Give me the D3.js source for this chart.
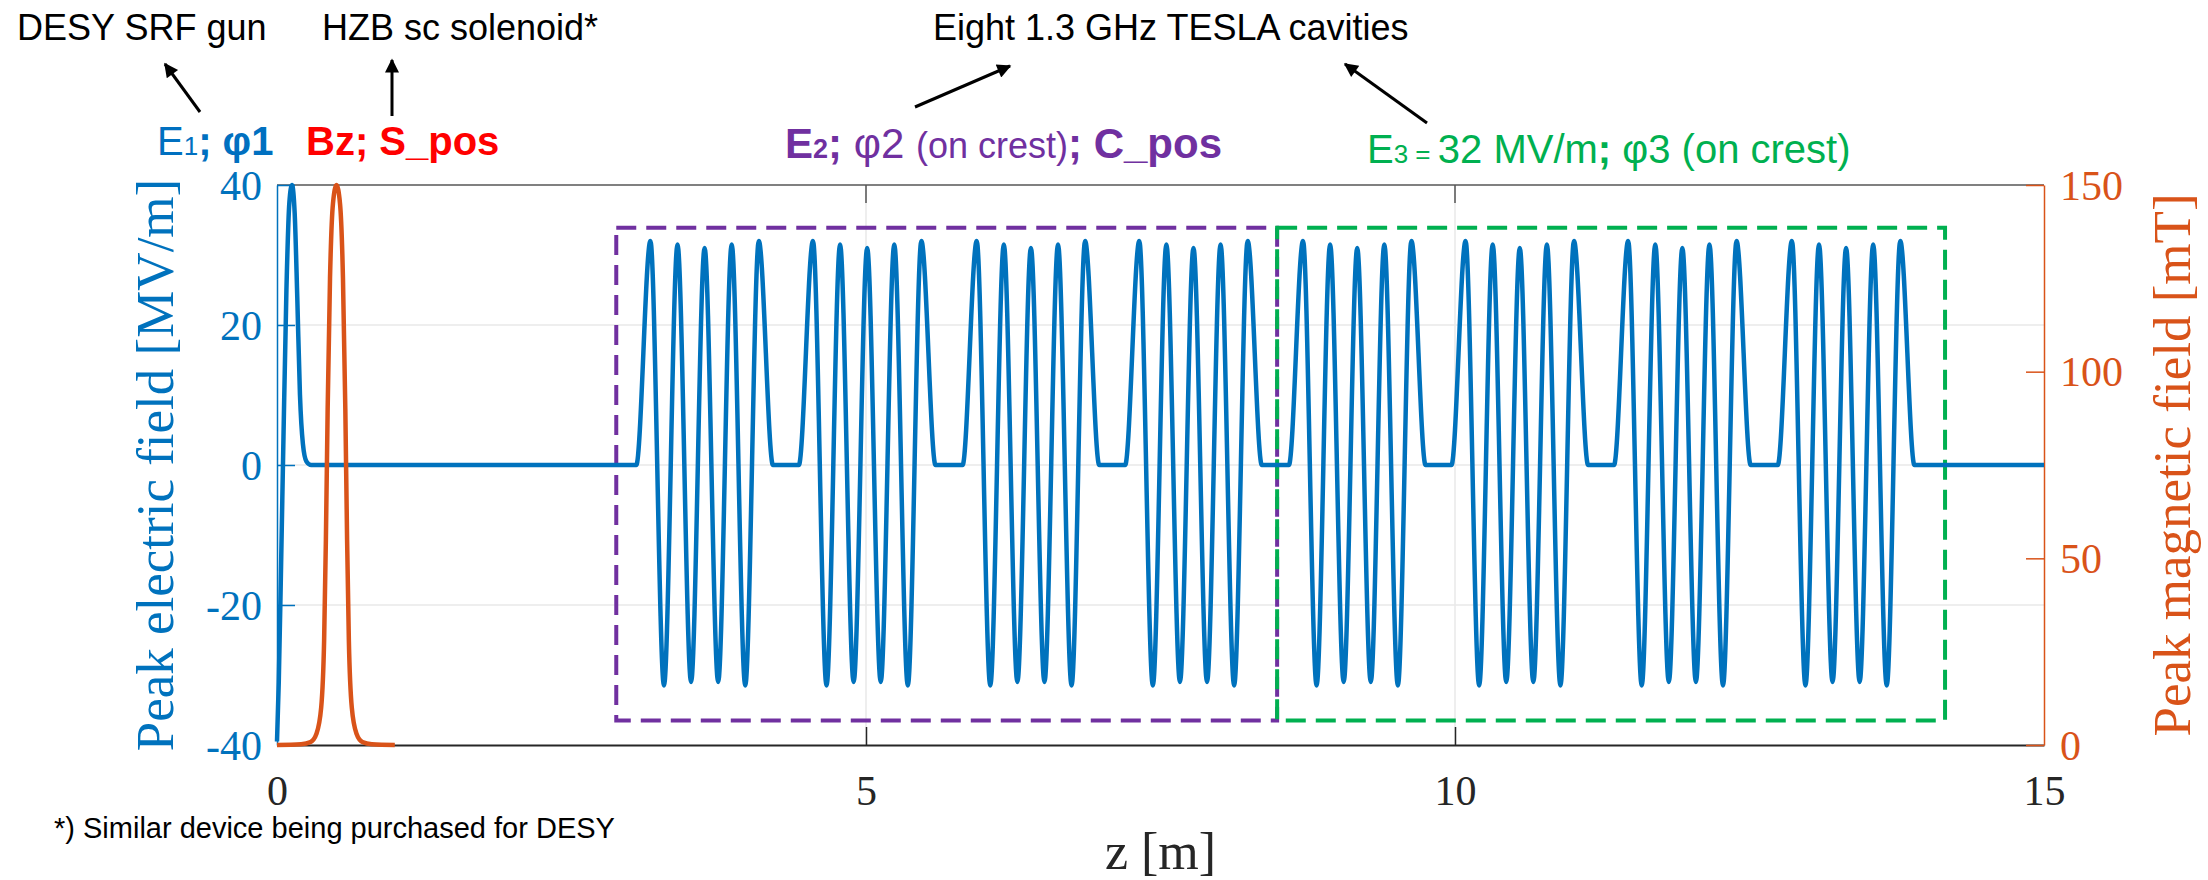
<!DOCTYPE html>
<html>
<head>
<meta charset="utf-8">
<script src="https://cdn.jsdelivr.net/npm/d3@7"></script>
<style>
  body { margin: 0; background: #fff; }
  svg { display: block; }
</style>
</head>
<body>
<div id="chart"></div>
<script>
// ---- data ----
const zTicks = [0, 5, 10, 15];
const eTicks = [-40, -20, 0, 20, 40];
const bTicks = [0, 50, 100, 150];
const eGrid = [-20, 0, 20];
const zGrid = [5, 10];

// SRF gun field, [z (m), E (MV/m)]
const gunField = [
  [0, -39.5], [0.015, -31], [0.035, -14], [0.055, 4], [0.08, 25], [0.105, 37.5],
  [0.127, 40], [0.15, 36], [0.172, 24], [0.195, 10], [0.22, 3], [0.25, 0.5], [0.29, 0]
];

// first-cell peak position of each of the eight TESLA cavities (m)
const cavityPeakZ = [3.17, 4.55, 5.94, 7.32, 8.71, 10.09, 11.47, 12.86];
// cell peak offsets inside a cavity (m) and their field values (MV/m)
const cellOffsets = [0, 0.115, 0.23, 0.345, 0.46, 0.575, 0.69, 0.805, 0.92];
const cellPeaks = [32, -31.5, 31.5, -31, 31, -31, 31.5, -31.5, 32];
const cellEdge = 0.12; // distance from end-cell peak to where the field is back at 0

// solenoid field, [z (m), Bz (mT)]
const solenoidField = [
  [0, 0], [0.205, 0.2], [0.285, 0.8], [0.335, 3], [0.375, 10], [0.4, 28], [0.415, 55],
  [0.43, 90], [0.45, 125], [0.475, 145], [0.505, 150], [0.535, 145], [0.56, 125],
  [0.58, 90], [0.595, 55], [0.61, 28], [0.635, 10], [0.675, 3], [0.725, 0.8],
  [0.805, 0.2], [1.0, 0]
];

// dashed boxes around the two groups of four cavities (z from/to, E from/to)
const boxZ = [[2.88, 8.49], [8.49, 14.16]];
const boxE = [-36.5, 33.9];
const boxColors = ["#7030A0", "#00B050"];

// ---- layout ----
const svgWidth = 2208;
const svgHeight = 880;
const plot = { left: 277, right: 2044, top: 185, bottom: 745 };

const blue = "#0072BD";
const orange = "#D95319";
const dark = "#262626";
const serif = "'Liberation Serif', 'Times New Roman', serif";
const sans = "'Liberation Sans', Arial, sans-serif";

const svg = d3.select("#chart")
  .append("svg")
  .attr("width", svgWidth)
  .attr("height", svgHeight);

svg.append("rect")
  .attr("width", svgWidth)
  .attr("height", svgHeight)
  .attr("fill", "#fff");

// scales
const xScale = d3.scaleLinear().domain([0, 15]).range([plot.left, plot.right]);
const yE = d3.scaleLinear().domain([-40, 40]).range([plot.bottom, plot.top]);
const yB = d3.scaleLinear().domain([0, 150]).range([plot.bottom, plot.top]);

// grid
const grid = svg.append("g").attr("stroke", "#e8e8e8").attr("stroke-width", 1.5);
grid.selectAll(".gy")
  .data(eGrid)
  .enter()
  .append("line")
  .attr("x1", plot.left)
  .attr("x2", plot.right)
  .attr("y1", d => yE(d))
  .attr("y2", d => yE(d));
grid.selectAll(".gx")
  .data(zGrid)
  .enter()
  .append("line")
  .attr("x1", d => xScale(d))
  .attr("x2", d => xScale(d))
  .attr("y1", plot.top)
  .attr("y2", plot.bottom);

// top box edge with inward ticks
svg.append("line")
  .attr("x1", plot.left).attr("x2", plot.right)
  .attr("y1", plot.top).attr("y2", plot.top)
  .attr("stroke", "#808080").attr("stroke-width", 2);
svg.selectAll(".topTick")
  .data(zTicks.slice(1, 3))
  .enter()
  .append("line")
  .attr("x1", d => xScale(d)).attr("x2", d => xScale(d))
  .attr("y1", plot.top).attr("y2", plot.top + 18)
  .attr("stroke", "#555").attr("stroke-width", 1.5);

// axes (plain hyphen for negatives, like the original)
const plain = d => String(d);
const xAxis = d3.axisBottom(xScale).tickValues(zTicks).tickFormat(plain)
  .tickSize(-18).tickSizeOuter(0).tickPadding(30);
const yAxisLeft = d3.axisLeft(yE).tickValues(eTicks).tickFormat(plain)
  .tickSize(-18).tickSizeOuter(0).tickPadding(15);
const yAxisRight = d3.axisRight(yB).tickValues(bTicks).tickFormat(plain)
  .tickSize(-18).tickSizeOuter(0).tickPadding(16);

function styleAxis(g, color, width) {
  g.attr("font-family", serif).attr("font-size", 42);
  g.select(".domain").attr("stroke", color).attr("stroke-width", width);
  g.selectAll(".tick line").attr("stroke", color).attr("stroke-width", 1.5);
  g.selectAll(".tick text").attr("fill", color);
}

const gx = svg.append("g")
  .attr("transform", `translate(0, ${plot.bottom})`)
  .call(xAxis);
styleAxis(gx, dark, 2);
gx.selectAll(".tick").filter(d => d === 0 || d === 15).select("line").remove();

const gl = svg.append("g")
  .attr("transform", `translate(${plot.left}, 0)`)
  .call(yAxisLeft);
styleAxis(gl, blue, 1.5);
gl.selectAll(".tick text").attr("dy", "0.34em");

const gr = svg.append("g")
  .attr("transform", `translate(${plot.right}, 0)`)
  .call(yAxisRight);
styleAxis(gr, orange, 1.5);
gr.selectAll(".tick text").attr("dy", "0.34em");

// axis titles
svg.append("text")
  .attr("x", (plot.left + plot.right) / 2)
  .attr("y", 869)
  .attr("text-anchor", "middle")
  .attr("font-family", serif)
  .attr("font-size", 52)
  .attr("fill", dark)
  .text("z [m]");

svg.append("text")
  .attr("transform", `translate(173, ${(plot.top + plot.bottom) / 2}) rotate(-90)`)
  .attr("text-anchor", "middle")
  .attr("font-family", serif)
  .attr("font-size", 53)
  .attr("fill", blue)
  .text("Peak electric field [MV/m]");

svg.append("text")
  .attr("transform", `translate(2190, ${(plot.top + plot.bottom) / 2}) rotate(-90)`)
  .attr("text-anchor", "middle")
  .attr("font-family", serif)
  .attr("font-size", 53)
  .attr("fill", orange)
  .text("Peak magnetic field [mT]");

// dashed boxes
svg.selectAll(".box")
  .data(boxZ)
  .enter()
  .append("rect")
  .attr("x", d => xScale(d[0]))
  .attr("y", yE(boxE[1]))
  .attr("width", d => xScale(d[1]) - xScale(d[0]))
  .attr("height", yE(boxE[0]) - yE(boxE[1]))
  .attr("fill", "none")
  .attr("stroke", (d, i) => boxColors[i])
  .attr("stroke-width", 4)
  .attr("stroke-dasharray", "20 10");

// electric field: gun, drift, then eight 9-cell cavities
const eField = gunField.slice();
cavityPeakZ.forEach(z0 => {
  eField.push([z0 - cellEdge, 0]);
  cellOffsets.forEach((dz, i) => eField.push([z0 + dz, cellPeaks[i]]));
  eField.push([z0 + cellOffsets[cellOffsets.length - 1] + cellEdge, 0]);
});
eField.push([15, 0]);

const eLine = d3.line()
  .x(d => xScale(d[0]))
  .y(d => yE(d[1]))
  .curve(d3.curveMonotoneX);

const bLine = d3.line()
  .x(d => xScale(d[0]))
  .y(d => yB(d[1]))
  .curve(d3.curveMonotoneX);

svg.append("path")
  .datum(eField)
  .attr("d", eLine)
  .attr("fill", "none")
  .attr("stroke", blue)
  .attr("stroke-width", 4.5)
  .attr("stroke-linejoin", "round");

svg.append("path")
  .datum(solenoidField)
  .attr("d", bLine)
  .attr("fill", "none")
  .attr("stroke", orange)
  .attr("stroke-width", 4.5)
  .attr("stroke-linejoin", "round");

// ---- annotations ----
svg.append("defs").append("marker")
  .attr("id", "arrow")
  .attr("viewBox", "0 0 10 10")
  .attr("refX", 9)
  .attr("refY", 5)
  .attr("markerUnits", "userSpaceOnUse")
  .attr("markerWidth", 18)
  .attr("markerHeight", 14)
  .attr("orient", "auto")
  .append("path")
  .attr("d", "M0,0 L10,5 L0,10 Z")
  .attr("fill", "#000");

const arrows = [
  [200, 112, 165, 64],
  [392, 116, 392, 60],
  [915, 107, 1010, 66],
  [1427, 123, 1345, 64]
];
svg.selectAll(".arrow")
  .data(arrows)
  .enter()
  .append("line")
  .attr("x1", d => d[0]).attr("y1", d => d[1])
  .attr("x2", d => d[2]).attr("y2", d => d[3])
  .attr("stroke", "#000")
  .attr("stroke-width", 3)
  .attr("marker-end", "url(#arrow)");

function label(xPos, yPos, color, pieces) {
  const t = svg.append("text")
    .attr("x", xPos)
    .attr("y", yPos)
    .attr("font-family", sans)
    .attr("fill", color);
  pieces.forEach(p => {
    t.append("tspan")
      .attr("font-size", p[1])
      .attr("font-weight", p[2] ? "bold" : "normal")
      .text(p[0]);
  });
  return t;
}

label(17, 40, "#000", [["DESY SRF gun", 36]]);
label(322, 40, "#000", [["HZB sc solenoid*", 36]]);
label(933, 40, "#000", [["Eight 1.3 GHz TESLA cavities", 36]]);

label(157, 155, "#0070C0", [["E", 40], ["1", 26], ["; ", 40, true], ["\u03C61", 40, true]]);
label(306, 155, "#FF0000", [["Bz; S_pos", 40, true]]);
label(785, 158, "#7030A0", [
  ["E", 42, true], ["2", 27, true], ["; ", 42, true], ["\u03C62 ", 42],
  ["(on crest)", 36], ["; C_pos", 42, true]
]);
label(1367, 163, "#00B050", [
  ["E", 40], ["3 = ", 26], ["32 MV/m", 40], ["; ", 40, true], ["\u03C63 (on crest)", 40]
]);

label(54, 838, "#000", [["*) Similar device being purchased for DESY", 29]]);
</script>
</body>
</html>
